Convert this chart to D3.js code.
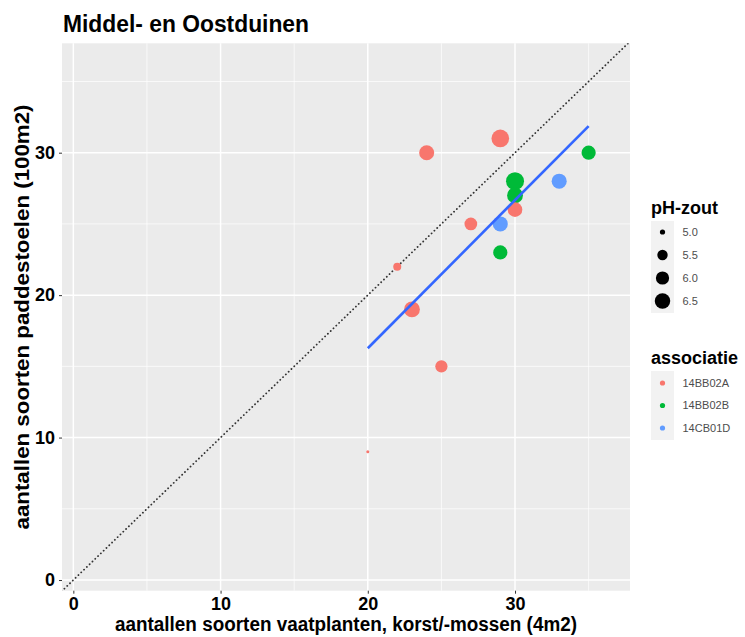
<!DOCTYPE html>
<html>
<head>
<meta charset="utf-8">
<script src="https://cdn.jsdelivr.net/npm/d3@7"></script>
<style>
  body { margin: 0; background: #fff; }
  text { font-family: "Liberation Sans", Arial, sans-serif; }
</style>
</head>
<body>
<div id="chart"></div>
<script>
// data
var vaatplanten = [29, 24, 35, 30, 33, 30, 30, 27, 29, 29, 22, 23, 25, 20];
var paddestoelen = [31, 30, 30, 28, 28, 27, 26, 25, 25, 23, 22, 19, 15, 9];
var phZout = [7.1, 6.4, 6.2, 7.2, 6.4, 6.6, 6.3, 5.9, 6.4, 6.2, 5.2, 6.6, 5.8, 4.95];
var associatie = ['14BB02A', '14BB02A', '14BB02B', '14BB02B', '14CB01D', '14BB02B', '14BB02A',
                  '14BB02A', '14CB01D', '14BB02B', '14BB02A', '14BB02A', '14BB02A', '14BB02A'];
var assocLevels = ['14BB02A', '14BB02B', '14CB01D'];
var assocColors = ['#F8766D', '#00BA38', '#619CFF'];
var phBreaks = [5.0, 5.5, 6.0, 6.5];
var xTicks = [0, 10, 20, 30];
var yTicks = [0, 10, 20, 30];

var W = 745, H = 637;
var panel = { left: 62, right: 630, top: 43.3, bottom: 590.7 };

var svg = d3.select('#chart').append('svg')
            .attr('width', W).attr('height', H);

var x = d3.scaleLinear().domain([-0.77, 37.81]).range([panel.left, panel.right]);
var y = d3.scaleLinear().domain([-0.75, 37.68]).range([panel.bottom, panel.top]);

var color = d3.scaleOrdinal().domain(assocLevels).range(assocColors);

// ggplot-like area size scale: diameter = k * (1 + 5 * sqrt(t))
var phExt = d3.extent(phZout);
var rad = function(v){
  var t = Math.max(0, (v - phExt[0]) / (phExt[1] - phExt[0]));
  return 1.5 * (1 + 5 * Math.sqrt(t));
};

var points = vaatplanten.map(function(v, i){
  return { x: v, y: paddestoelen[i], ph: phZout[i], a: associatie[i] };
});

// panel
svg.append('rect')
   .attr('x', panel.left).attr('y', panel.top)
   .attr('width', panel.right - panel.left)
   .attr('height', panel.bottom - panel.top)
   .style('fill', '#EBEBEB');

svg.append('clipPath').attr('id', 'clip')
   .append('rect')
   .attr('x', panel.left).attr('y', panel.top)
   .attr('width', panel.right - panel.left)
   .attr('height', panel.bottom - panel.top);

var minor = [5, 15, 25, 35];
svg.selectAll('.vminor').data(minor).enter().append('line')
   .attr('x1', function(d){ return x(d); }).attr('x2', function(d){ return x(d); })
   .attr('y1', panel.top).attr('y2', panel.bottom)
   .style('stroke', '#fff').style('stroke-width', 0.7);
svg.selectAll('.hminor').data(minor).enter().append('line')
   .attr('y1', function(d){ return y(d); }).attr('y2', function(d){ return y(d); })
   .attr('x1', panel.left).attr('x2', panel.right)
   .style('stroke', '#fff').style('stroke-width', 0.7);
svg.selectAll('.vmajor').data(xTicks).enter().append('line')
   .attr('x1', function(d){ return x(d); }).attr('x2', function(d){ return x(d); })
   .attr('y1', panel.top).attr('y2', panel.bottom)
   .style('stroke', '#fff').style('stroke-width', 1.5);
svg.selectAll('.hmajor').data(yTicks).enter().append('line')
   .attr('y1', function(d){ return y(d); }).attr('y2', function(d){ return y(d); })
   .attr('x1', panel.left).attr('x2', panel.right)
   .style('stroke', '#fff').style('stroke-width', 1.5);

var plot = svg.append('g').attr('clip-path', 'url(#clip)');

// y = x reference line
var lo = Math.max(x.domain()[0], y.domain()[0]) - 1;
var hi = Math.min(x.domain()[1], y.domain()[1]) + 1;
plot.append('line')
    .attr('x1', x(lo)).attr('y1', y(lo))
    .attr('x2', x(hi)).attr('y2', y(hi))
    .style('stroke', '#333').style('stroke-width', 1.8)
    .style('stroke-dasharray', '0.1,3.8').style('stroke-linecap', 'round');

// points
plot.selectAll('.pt').data(points).enter().append('circle')
    .attr('class', 'pt')
    .attr('cx', function(d){ return x(d.x); })
    .attr('cy', function(d){ return y(d.y); })
    .attr('r', function(d){ return rad(d.ph); })
    .style('fill', function(d){ return color(d.a); });

// linear fit
var mx = d3.mean(vaatplanten), my = d3.mean(paddestoelen);
var sxy = d3.sum(points, function(d){ return (d.x - mx) * (d.y - my); });
var sxx = d3.sum(points, function(d){ return (d.x - mx) * (d.x - mx); });
var slope = sxy / sxx, icpt = my - slope * mx;
var xr = d3.extent(vaatplanten);
plot.append('line')
    .attr('x1', x(xr[0])).attr('y1', y(icpt + slope * xr[0]))
    .attr('x2', x(xr[1])).attr('y2', y(icpt + slope * xr[1]))
    .style('stroke', '#3366FF').style('stroke-width', 2.6);

// axes
var xAxis = svg.append('g').attr('transform', 'translate(0,' + panel.bottom + ')')
               .call(d3.axisBottom(x).tickValues(xTicks).tickSize(3).tickPadding(4));
var yAxis = svg.append('g').attr('transform', 'translate(' + panel.left + ',0)')
               .call(d3.axisLeft(y).tickValues(yTicks).tickSize(3).tickPadding(4));
[xAxis, yAxis].forEach(function(a){
  a.select('.domain').remove();
  a.selectAll('line').style('stroke', '#333');
  a.selectAll('text').style('font-size', '18px').style('font-weight', 'bold')
   .style('fill', '#000').style('font-family', '"Liberation Sans", Arial, sans-serif');
});

// titles
svg.append('text')
   .attr('x', 63).attr('y', 32)
   .attr('textLength', 246).attr('lengthAdjust', 'spacingAndGlyphs')
   .style('font-size', '23px').style('font-weight', 'bold')
   .text('Middel- en Oostduinen');

svg.append('text')
   .attr('x', (panel.left + panel.right) / 2).attr('y', 631)
   .attr('text-anchor', 'middle')
   .attr('textLength', 462).attr('lengthAdjust', 'spacingAndGlyphs')
   .style('font-size', '20px').style('font-weight', 'bold')
   .text('aantallen soorten vaatplanten, korst/-mossen (4m2)');

svg.append('text')
   .attr('transform', 'translate(29,' + (panel.top + panel.bottom) / 2 + ') rotate(-90)')
   .attr('text-anchor', 'middle')
   .attr('textLength', 425).attr('lengthAdjust', 'spacingAndGlyphs')
   .style('font-size', '20px').style('font-weight', 'bold')
   .text('aantallen soorten paddestoelen (100m2)');

// legend: pH-zout
var lx = 651;
svg.append('text').attr('x', lx).attr('y', 214)
   .style('font-size', '18px').style('font-weight', 'bold').text('pH-zout');
svg.append('rect').attr('x', lx).attr('y', 221).attr('width', 23).attr('height', 92)
   .style('fill', '#F2F2F2');
var sz = svg.selectAll('.szkey').data(phBreaks).enter().append('g')
            .attr('transform', function(d, i){ return 'translate(' + (lx + 11.5) + ',' + (232 + i * 23) + ')'; });
sz.append('circle').attr('r', function(d){ return rad(d); }).style('fill', '#000');
sz.append('text').attr('x', 20).attr('dy', '0.35em')
  .style('font-size', '11px').style('fill', '#4D4D4D')
  .text(function(d){ return d3.format('.1f')(d); });

// legend: associatie
svg.append('text').attr('x', lx).attr('y', 364)
   .style('font-size', '18px').style('font-weight', 'bold').text('associatie');
svg.append('rect').attr('x', lx).attr('y', 371).attr('width', 23).attr('height', 69)
   .style('fill', '#F2F2F2');
var ak = svg.selectAll('.akey').data(assocLevels).enter().append('g')
            .attr('transform', function(d, i){ return 'translate(' + (lx + 11.5) + ',' + (383 + i * 22.5) + ')'; });
ak.append('circle').attr('r', 2.6).style('fill', function(d){ return color(d); });
ak.append('text').attr('x', 20).attr('dy', '0.35em')
  .style('font-size', '11px').style('fill', '#4D4D4D')
  .text(function(d){ return d; });
</script>
</body>
</html>
